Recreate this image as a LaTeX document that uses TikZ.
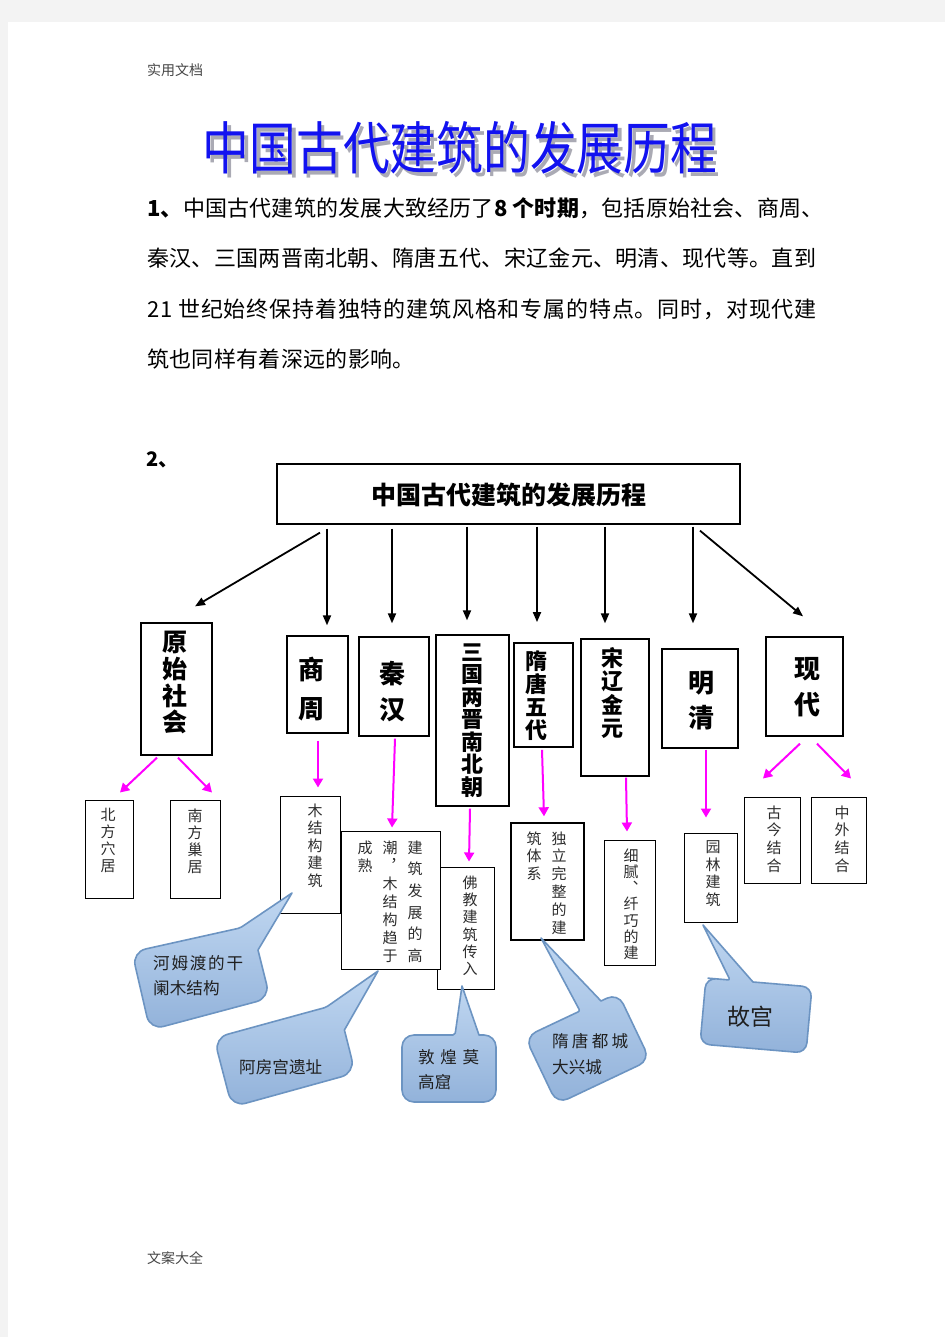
\documentclass[tikz,border=0pt]{standalone}
\usepackage{fontspec}
\usepackage{graphicx}
\setmainfont{Noto Sans CJK SC}
\usetikzlibrary{arrows.meta,calc}
\definecolor{titleblue}{RGB}{18,18,240}
\definecolor{shadowgray}{RGB}{170,170,180}
\definecolor{mag}{RGB}{255,0,255}
\definecolor{subtxt}{RGB}{45,45,45}
\definecolor{bubtop}{RGB}{192,215,241}
\definecolor{bubbot}{RGB}{146,178,218}
\definecolor{bubline}{RGB}{108,148,194}
\definecolor{pagegray}{RGB}{243,243,243}
\definecolor{hdrgray}{RGB}{70,70,70}
\begin{document}
\begin{tikzpicture}[x=1pt,y=-1pt,
  pbox/.style={draw=black, line width=1.3pt, fill=white, rectangle, inner sep=0pt},
  sbox/.style={draw=black, line width=1pt, fill=white, rectangle, inner sep=0pt},
  ptxt/.style 2 args={font=\fontsize{#1}{#2}\selectfont\bfseries, align=center, inner sep=0pt, anchor=north},
  stxt/.style={font=\fontsize{15}{#1}\selectfont, text=subtxt, align=center, inner sep=0pt, anchor=north},
  blk/.style={draw=black, line width=1.8pt, -{Triangle[length=10pt,width=8pt]}},
  mga/.style={draw=mag, line width=2pt, -{Triangle[length=9pt,width=10pt]}},
  bubble/.style={top color=bubtop, bottom color=bubbot, draw=bubline, line width=1.6pt, line join=round},
  btxt/.style={font=\fontsize{16.6}{20}\selectfont, text=black!88, inner sep=0pt, anchor=west},
  para/.style={font=\fontsize{22}{26}\selectfont, inner sep=0pt, anchor=west}]
\fill[pagegray] (0,0) rectangle (945,1337);
\fill[white] (8,22) rectangle (945,1337);
\useasboundingbox (0,0) rectangle (945,1337);

% header / footer
\node[anchor=west, inner sep=0pt, font=\fontsize{14}{16}\selectfont, text=hdrgray] (hdr) at (147,70) {实用文档};
\node[anchor=west, inner sep=0pt, font=\fontsize{14}{16}\selectfont, text=hdrgray] (ftr) at (147,1258) {文案大全};

% title with shadow
\node[font=\fontsize{57}{60}\selectfont, text=shadowgray, inner sep=0pt] (titleshadow) at (463.5,151.5) {\scalebox{0.82}[1]{中国古代建筑的发展历程}};
\node[font=\fontsize{57}{60}\selectfont, text=titleblue, inner sep=0pt] (title) at (460,148) {\scalebox{0.82}[1]{中国古代建筑的发展历程}};

% paragraph
\node[para] (p1) at (147,208) {\addfontfeatures{LetterSpace=1}\textbf{1、}中国古代建筑的发展大致经历了\textbf{8 个时期}，包括原始社会、商周、};
\node[para] (p2) at (147,258) {\addfontfeatures{LetterSpace=1.4}秦汉、三国两晋南北朝、隋唐五代、宋辽金元、明清、现代等。直到};
\node[para] (p3) at (147,309) {\addfontfeatures{LetterSpace=3.8}21 世纪始终保持着独特的建筑风格和专属的特点。同时，对现代建};
\node[para] (p4) at (147,359) {\addfontfeatures{LetterSpace=1.5}筑也同样有着深远的影响。};

\node[anchor=west, inner sep=0pt, font=\fontsize{20}{24}\selectfont\bfseries] (two) at (146,460) {2、};

% main box
\node[pbox, minimum width=463pt, minimum height=60pt] (main) at (508.5,494) {};
\node[font=\fontsize{25}{30}\selectfont\bfseries, inner sep=0pt] (main-t) at (509,495) {中国古代建筑的发展历程};

% period boxes
\node[pbox, minimum width=71pt, minimum height=132pt] (ys) at (176.5,689) {};
\node[ptxt={25}{26.7}] (ys-t) at (175,631) {原\\始\\社\\会};
\node[pbox, minimum width=61pt, minimum height=97pt] (sz) at (317.5,684.5) {};
\node[ptxt={26}{39}] (sz-t) at (311,656.6) {商\\周};
\node[pbox, minimum width=70pt, minimum height=99pt] (qh) at (394,686.5) {};
\node[ptxt={26}{36}] (qh-t) at (392,660.6) {秦\\汉};
\node[pbox, minimum width=73pt, minimum height=171pt] (sg) at (472.5,720.5) {};
\node[ptxt={22}{22.5}] (sg-t) at (472,643.3) {三\\国\\两\\晋\\南\\北\\朝};
\node[pbox, line width=1.8pt, minimum width=59pt, minimum height=104pt] (st) at (543.5,695) {};
\node[ptxt={22}{23}] (st-t) at (536,650.3) {隋\\唐\\五\\代};
\node[pbox, minimum width=68pt, minimum height=137pt] (sl) at (615,707.5) {};
\node[ptxt={22}{23.3}] (sl-t) at (612,647.3) {宋\\辽\\金\\元};
\node[pbox, minimum width=76pt, minimum height=99pt] (mq) at (700,698.5) {};
\node[ptxt={26}{35}] (mq-t) at (701,670.6) {明\\清};
\node[pbox, minimum width=77pt, minimum height=99pt] (xd) at (804.5,686.5) {};
\node[ptxt={26}{36}] (xd-t) at (807,657.6) {现\\代};

% sub boxes
\node[sbox, minimum width=48pt, minimum height=98pt] (bf) at (109,849) {};
\node[stxt=17] (bf-t) at (108,808.4) {北\\方\\穴\\居};
\node[sbox, minimum width=50pt, minimum height=98pt] (nf) at (195,849) {};
\node[stxt=17] (nf-t) at (195,808.4) {南\\方\\巢\\居};
\node[sbox, minimum width=60pt, minimum height=117pt] (mj) at (310,854.5) {};
\node[stxt=17.5] (mj-t) at (315,803.4) {木\\结\\构\\建\\筑};
\node[sbox, minimum width=57pt, minimum height=122pt] (fj) at (465.5,928) {};
\node[stxt=17.3] (fj-t) at (470,875.4) {佛\\教\\建\\筑\\传\\入};
\node[sbox, minimum width=99pt, minimum height=138pt] (jz) at (390.5,900) {};
\node[stxt=21.6] (jz-t1) at (415,840.4) {建\\筑\\发\\展\\的\\高};
\node[stxt=18] (jz-t2) at (390,840.4) {潮\\︐\\木\\结\\构\\趋\\于};
\node[stxt=18] (jz-t3) at (365,840.4) {成\\熟};
\node[sbox, line width=1.4pt, minimum width=73pt, minimum height=117pt] (dl) at (547.5,881.5) {};
\node[stxt=17.8] (dl-t1) at (559,831.4) {独\\立\\完\\整\\的\\建};
\node[stxt=17.5] (dl-t2) at (534,831.4) {筑\\体\\系};
\node[sbox, minimum width=51pt, minimum height=125pt] (xn) at (629.5,902.5) {};
\node[stxt=16.2] (xn-t) at (631,848.4) {细\\腻\\︑\\纤\\巧\\的\\建};
\node[sbox, minimum width=53pt, minimum height=89pt] (yl) at (710.5,877.5) {};
\node[stxt=17.7] (yl-t) at (713,840.4) {园\\林\\建\\筑};
\node[sbox, minimum width=56pt, minimum height=86pt] (gj) at (772,840) {};
\node[stxt=17.7] (gj-t) at (774,805.4) {古\\今\\结\\合};
\node[sbox, minimum width=55pt, minimum height=86pt] (zw) at (838.5,840) {};
\node[stxt=17.7] (zw-t) at (842,805.4) {中\\外\\结\\合};

% black arrows
\draw[blk] ($(main.south)+(-188.5,8)$) -- ($(ys.north)+(18.5,-16)$);
\draw[blk] ($(main.south)+(-181.5,4)$) -- ($(sz.north)+(9.5,-10)$);
\draw[blk] ($(main.south)+(-116.5,4)$) -- ($(qh.north)+(-2,-13)$);
\draw[blk] ($(main.south)+(-41.5,2)$) -- ($(sg.north)+(-5.5,-14)$);
\draw[blk] ($(main.south)+(28.5,2)$) -- ($(st.north)+(-6.5,-20)$);
\draw[blk] ($(main.south)+(96.5,2)$) -- ($(sl.north)+(-10,-15)$);
\draw[blk] ($(main.south)+(184.5,2)$) -- ($(mq.north)+(-7,-25)$);
\draw[blk] ($(main.south)+(191.5,6)$) -- ($(xd.north)+(-1.5,-20)$);

% magenta arrows
\draw[mga] ($(ys.south)+(-19.5,2)$) -- ($(bf.north)+(11,-7)$);
\draw[mga] ($(ys.south)+(1.5,2)$) -- ($(nf.north)+(17,-7)$);
\draw[mga] ($(sz.south)+(0.5,7)$) -- ($(mj.north)+(8,-8)$);
\draw[mga] ($(qh.south)+(1,2)$) -- ($(jz.north)+(1.5,-3)$);
\draw[mga] ($(sg.south)+(-2.5,2)$) -- ($(fj.north)+(3.5,-5)$);
\draw[mga] ($(st.south)+(-1.5,2)$) -- ($(dl.north)+(-3.5,-6)$);
\draw[mga] ($(sl.south)+(11,1)$) -- ($(xn.north)+(-2.5,-8)$);
\draw[mga] ($(mq.south)+(6,1)$) -- ($(yl.north)+(-4.5,-15)$);
\draw[mga] ($(xd.south)+(-4.5,7)$) -- ($(gj.north)+(-9,-18)$);
\draw[mga] ($(xd.south)+(12.5,7)$) -- ($(zw.north)+(12.5,-18)$);

% callouts
\shade[bubble, rounded corners=14pt] (132,952) -- (186,940) [rounded corners=2pt] -- (240,928) [sharp corners] -- (292,893) -- (258,950) [rounded corners=2pt] -- (264,974) [rounded corners=14pt] -- (270,998) -- (150,1030) -- cycle;
\node[btxt] (b1a) at (153,963) {\makebox[90pt][s]{河\hfil 姆\hfil 渡\hfil 的\hfil 干}};
\node[btxt] (b1b) at (153,988) {阑木结构};

\shade[bubble, rounded corners=14pt] (214,1038) -- (270,1022.6) [rounded corners=2pt] -- (326,1007.3) [sharp corners] -- (378,971) -- (344.4,1030) [rounded corners=2pt] -- (350,1052) [rounded corners=14pt] -- (355,1073) -- (232,1107) -- cycle;
\node[btxt] (b2) at (239,1067) {阿房宫遗址};

\shade[bubble, rounded corners=12pt] (402,1035) -- (428,1035) [rounded corners=2pt] -- (455,1035) [sharp corners] -- (462,986) -- (479,1035) [rounded corners=2pt] -- (482,1035) [rounded corners=12pt] -- (496,1035) -- (496,1102) -- (402,1102) -- cycle;
\node[btxt] (b3a) at (418,1057) {\makebox[61pt][s]{敦\hfil 煌\hfil 莫}};
\node[btxt] (b3b) at (418,1082) {高窟};

\shade[bubble, rounded corners=12pt] (525,1037) -- (552,1024.2) [rounded corners=2pt] -- (580,1011) [sharp corners] -- (541,938) -- (601,1001) [rounded corners=1pt] -- (605,999.1) [rounded corners=12pt] -- (618,993) -- (650,1060) -- (557,1104) -- cycle;
\node[btxt] (b4a) at (552,1041) {\makebox[76pt][s]{隋\hfil 唐\hfil 都\hfil 城}};
\node[btxt] (b4b) at (552,1067) {大兴城};

\shade[bubble, rounded corners=10pt] (706,978) -- (718,979) [rounded corners=2pt] -- (730,980) [sharp corners] -- (703,925) -- (753,982) [rounded corners=2pt] -- (770,983.4) [rounded corners=10pt] -- (812,987) -- (806,1053) -- (700,1044) -- cycle;
\node[btxt, font=\fontsize{23}{26}\selectfont] (b5) at (727,1017) {故宫};
\end{tikzpicture}
\end{document}
